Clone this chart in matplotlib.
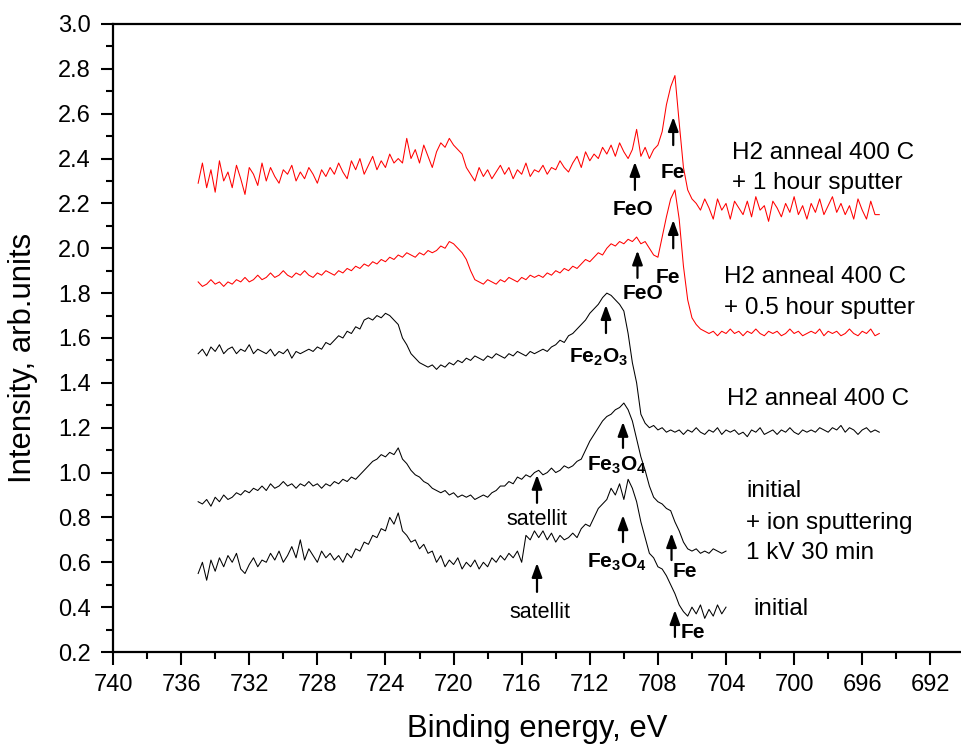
import numpy as np
import matplotlib
matplotlib.use("Agg")
import matplotlib.pyplot as plt
from matplotlib.ticker import MultipleLocator

# binding energy grids, 0.25 eV step (high -> low)
energy_long = np.linspace(735.0, 695.0, 161)
energy_short = np.linspace(735.0, 704.0, 125)

# H2 anneal 400 C + 1 hour sputter (red, top)
h2_sputter_1h = [
    2.29, 2.38, 2.27, 2.35, 2.25, 2.39, 2.30, 2.34,   # 735.0 - 733.25
    2.27, 2.37, 2.31, 2.24, 2.36, 2.33, 2.28, 2.38,   # 733.0 - 731.25
    2.30, 2.36, 2.32, 2.29, 2.35, 2.33, 2.37, 2.30,   # 731.0 - 729.25
    2.34, 2.31, 2.36, 2.33, 2.29, 2.35, 2.32, 2.36,   # 729.0 - 727.25
    2.33, 2.38, 2.34, 2.31, 2.39, 2.35, 2.40, 2.33,   # 727.0 - 725.25
    2.37, 2.41, 2.35, 2.39, 2.36, 2.42, 2.38, 2.40,   # 725.0 - 723.25
    2.38, 2.49, 2.40, 2.44, 2.38, 2.46, 2.41, 2.36,   # 723.0 - 721.25
    2.43, 2.47, 2.45, 2.49, 2.46, 2.44, 2.42, 2.36,   # 721.0 - 719.25
    2.33, 2.30, 2.36, 2.32, 2.35, 2.31, 2.34, 2.37,   # 719.0 - 717.25
    2.33, 2.36, 2.31, 2.35, 2.33, 2.38, 2.32, 2.35,   # 717.0 - 715.25
    2.34, 2.37, 2.33, 2.36, 2.35, 2.39, 2.36, 2.34,   # 715.0 - 713.25
    2.38, 2.41, 2.36, 2.43, 2.39, 2.42, 2.40, 2.45,   # 713.0 - 711.25
    2.42, 2.46, 2.41, 2.47, 2.43, 2.40, 2.44, 2.53,   # 711.0 - 709.25
    2.41, 2.45, 2.40, 2.44, 2.46, 2.52, 2.64, 2.72,   # 709.0 - 707.25
    2.77, 2.56, 2.36, 2.26, 2.22, 2.20, 2.17, 2.22,   # 707.0 - 705.25
    2.18, 2.13, 2.22, 2.17, 2.20, 2.13, 2.21, 2.18,   # 705.0 - 703.25
    2.15, 2.21, 2.14, 2.23, 2.17, 2.19, 2.12, 2.21,   # 703.0 - 701.25
    2.18, 2.14, 2.20, 2.16, 2.23, 2.15, 2.19, 2.13,   # 701.0 - 699.25
    2.20, 2.16, 2.22, 2.15, 2.19, 2.23, 2.16, 2.20,   # 699.0 - 697.25
    2.15, 2.19, 2.13, 2.22, 2.17, 2.13, 2.21, 2.15,   # 697.0 - 695.25
    2.15,
]

# H2 anneal 400 C + 0.5 hour sputter (red, middle)
h2_sputter_05h = [
    1.85, 1.83, 1.84, 1.86, 1.84, 1.85, 1.83, 1.85,
    1.84, 1.86, 1.85, 1.87, 1.85, 1.86, 1.88, 1.86,
    1.87, 1.89, 1.87, 1.88, 1.90, 1.88, 1.87, 1.89,
    1.88, 1.90, 1.88, 1.87, 1.89, 1.88, 1.90, 1.89,
    1.88, 1.90, 1.89, 1.91, 1.90, 1.92, 1.91, 1.93,
    1.92, 1.94, 1.93, 1.95, 1.94, 1.96, 1.95, 1.97,
    1.96, 1.98, 1.97, 1.96, 1.98, 1.97, 1.99, 1.98,
    1.99, 2.01, 2.00, 2.03, 2.02, 2.00, 1.98, 1.95,
    1.90, 1.86, 1.85, 1.84, 1.86, 1.85, 1.84, 1.86,
    1.85, 1.87, 1.86, 1.85, 1.87, 1.86, 1.88, 1.87,
    1.88, 1.87, 1.89, 1.88, 1.90, 1.89, 1.91, 1.90,
    1.92, 1.91, 1.93, 1.95, 1.94, 1.96, 1.98, 1.97,
    2.00, 2.02, 2.01, 2.03, 2.02, 2.04, 2.03, 2.05,
    2.02, 2.03, 2.00, 1.97, 1.96, 2.05, 2.14, 2.22,
    2.26, 2.13, 1.92, 1.77, 1.69, 1.66, 1.64, 1.63,
    1.62, 1.63, 1.61, 1.63, 1.62, 1.64, 1.62, 1.63,
    1.61, 1.63, 1.62, 1.64, 1.62, 1.61, 1.63, 1.62,
    1.63, 1.61, 1.62, 1.64, 1.62, 1.63, 1.61, 1.62,
    1.63, 1.62, 1.64, 1.61, 1.63, 1.62, 1.63, 1.61,
    1.62, 1.64, 1.62, 1.61, 1.63, 1.62, 1.64, 1.61,
    1.62,
]

# H2 anneal 400 C (black)
h2_anneal = [
    1.53, 1.55, 1.52, 1.56, 1.54, 1.57, 1.53, 1.55,
    1.56, 1.53, 1.55, 1.54, 1.57, 1.53, 1.55, 1.54,
    1.53, 1.55, 1.52, 1.54, 1.53, 1.55, 1.51, 1.54,
    1.53, 1.54, 1.55, 1.54, 1.56, 1.55, 1.58, 1.57,
    1.59, 1.61, 1.60, 1.63, 1.62, 1.65, 1.64, 1.68,
    1.69, 1.68, 1.70, 1.69, 1.71, 1.70, 1.68, 1.66,
    1.60, 1.57, 1.53, 1.51, 1.49, 1.48, 1.47, 1.48,
    1.46, 1.48, 1.47, 1.49, 1.48, 1.50, 1.49, 1.51,
    1.50, 1.52, 1.51, 1.50, 1.52, 1.51, 1.53, 1.52,
    1.51, 1.53, 1.52, 1.54, 1.53, 1.52, 1.54, 1.53,
    1.54, 1.55, 1.54, 1.56, 1.57, 1.59, 1.58, 1.61,
    1.62, 1.64, 1.66, 1.68, 1.71, 1.73, 1.75, 1.78,
    1.80, 1.79, 1.77, 1.75, 1.72, 1.62, 1.49, 1.40,
    1.26, 1.22, 1.20, 1.21, 1.19, 1.20, 1.18, 1.19,
    1.18, 1.19, 1.17, 1.19, 1.18, 1.20, 1.18, 1.17,
    1.19, 1.18, 1.20, 1.17, 1.19, 1.18, 1.19, 1.17,
    1.18, 1.16, 1.19, 1.18, 1.20, 1.17, 1.18, 1.19,
    1.17, 1.19, 1.18, 1.20, 1.18, 1.17, 1.19, 1.18,
    1.19, 1.18, 1.20, 1.19, 1.18, 1.20, 1.19, 1.21,
    1.18, 1.20, 1.19, 1.17, 1.19, 1.20, 1.18, 1.19,
    1.18,
]

# initial + ion sputtering 1 kV 30 min (black)
initial_sputter = [
    0.87, 0.86, 0.88, 0.85, 0.89, 0.87, 0.90, 0.88,
    0.89, 0.91, 0.90, 0.92, 0.91, 0.93, 0.92, 0.94,
    0.92, 0.95, 0.93, 0.94, 0.96, 0.94, 0.95, 0.93,
    0.95, 0.94, 0.96, 0.94, 0.95, 0.93, 0.95, 0.94,
    0.96, 0.95, 0.97, 0.96, 0.98, 0.97, 0.99, 1.01,
    1.03, 1.05, 1.06, 1.08, 1.07, 1.09, 1.08, 1.11,
    1.06, 1.04, 1.01, 0.99, 0.98, 0.96, 0.95, 0.93,
    0.92, 0.91, 0.92, 0.90, 0.91, 0.89, 0.90, 0.89,
    0.90, 0.88, 0.89, 0.90, 0.89, 0.91, 0.92, 0.94,
    0.94, 0.96, 0.95, 0.98, 0.97, 0.99, 0.98, 1.00,
    1.01, 0.99, 1.00, 1.02, 1.00, 1.01, 1.03, 1.02,
    1.03, 1.05, 1.06, 1.10, 1.14, 1.17, 1.20, 1.23,
    1.25, 1.26, 1.28, 1.29, 1.31, 1.28, 1.23, 1.15,
    1.07, 1.01, 0.94, 0.89, 0.87, 0.86, 0.84, 0.83,
    0.78, 0.74, 0.69, 0.66, 0.65, 0.66, 0.64, 0.65,
    0.64, 0.66, 0.65, 0.64, 0.65,
]

# initial (black, bottom)
initial = [
    0.55, 0.60, 0.52, 0.61, 0.56, 0.62, 0.58, 0.63,
    0.60, 0.64, 0.57, 0.55, 0.59, 0.62, 0.58, 0.61,
    0.60, 0.64, 0.61, 0.65, 0.60, 0.63, 0.67, 0.62,
    0.70, 0.61, 0.66, 0.63, 0.60, 0.65, 0.62, 0.64,
    0.61, 0.63, 0.60, 0.64, 0.62, 0.66, 0.65, 0.69,
    0.68, 0.72, 0.71, 0.75, 0.74, 0.80, 0.77, 0.82,
    0.74, 0.72, 0.69, 0.70, 0.66, 0.68, 0.64, 0.65,
    0.60, 0.63, 0.58, 0.61, 0.59, 0.62, 0.57, 0.60,
    0.58, 0.61, 0.57, 0.60, 0.58, 0.62, 0.60, 0.63,
    0.61, 0.64, 0.62, 0.65, 0.60, 0.72, 0.70, 0.74,
    0.71, 0.74, 0.70, 0.73, 0.69, 0.72, 0.70, 0.71,
    0.73, 0.71, 0.75, 0.77, 0.76, 0.80, 0.84, 0.86,
    0.88, 0.93, 0.90, 0.95, 0.88, 0.97, 0.93, 0.87,
    0.78, 0.71, 0.64, 0.62, 0.58, 0.57, 0.54, 0.50,
    0.46, 0.41, 0.38, 0.36, 0.40, 0.37, 0.41, 0.35,
    0.39, 0.36, 0.41, 0.37, 0.40,
]

x_ticks = [740, 736, 732, 728, 724, 720, 716, 712, 708, 704, 700, 696, 692]
y_ticks = [0.2, 0.4, 0.6, 0.8, 1.0, 1.2, 1.4, 1.6, 1.8, 2.0, 2.2, 2.4, 2.6, 2.8, 3.0]


def draw_arrow(ax, x, y_tail, y_tip):
    ax.annotate(
        "",
        xy=(x, y_tip),
        xytext=(x, y_tail),
        arrowprops=dict(
            arrowstyle="-|>,head_length=0.6,head_width=0.22",
            color="black",
            lw=1.6,
            mutation_scale=14,
            shrinkA=0,
            shrinkB=0,
        ),
    )


def main():
    plt.rcParams["font.family"] = ["Liberation Sans", "DejaVu Sans"]
    plt.rcParams["mathtext.fontset"] = "custom"
    plt.rcParams["mathtext.rm"] = "Liberation Sans"
    plt.rcParams["mathtext.bf"] = "Liberation Sans:bold"

    assert len(h2_sputter_1h) == len(energy_long)
    assert len(h2_sputter_05h) == len(energy_long)
    assert len(h2_anneal) == len(energy_long)
    assert len(initial_sputter) == len(energy_short)
    assert len(initial) == len(energy_short)

    fig = plt.figure(figsize=(9.61, 7.49), dpi=100)
    ax = fig.add_axes([0.1176, 0.1295, 0.8824, 0.8385])

    ax.plot(energy_long, h2_sputter_1h, color="#ff0000", lw=0.75)
    ax.plot(energy_long, h2_sputter_05h, color="#ff0000", lw=0.75)
    ax.plot(energy_long, h2_anneal, color="black", lw=0.75)
    ax.plot(energy_short, initial_sputter, color="black", lw=0.75)
    ax.plot(energy_short, initial, color="black", lw=0.75)

    ax.set_xlim(740, 690.2)
    ax.set_ylim(0.2, 3.0)
    ax.set_xticks(x_ticks)
    ax.set_yticks(y_ticks)
    ax.set_yticklabels([f"{v:.1f}" for v in y_ticks])
    ax.xaxis.set_minor_locator(MultipleLocator(2))
    ax.yaxis.set_minor_locator(MultipleLocator(0.1))
    ax.tick_params(which="major", direction="out", length=9, width=1.5,
                   labelsize=17, pad=7)
    ax.tick_params(which="minor", direction="out", length=5, width=1.5)
    ax.spines["right"].set_visible(False)
    for s in ("left", "bottom", "top"):
        ax.spines[s].set_linewidth(1.6)

    ax.set_xlabel("Binding energy, eV", fontsize=22.3, labelpad=13)
    ax.set_ylabel("Intensity, arb.units", fontsize=22.3)
    ax.yaxis.set_label_coords(-0.088, 0.468)

    # peak markers
    draw_arrow(ax, 707.1, 2.46, 2.585)
    draw_arrow(ax, 709.35, 2.26, 2.385)
    draw_arrow(ax, 707.1, 2.00, 2.126)
    draw_arrow(ax, 709.2, 1.868, 1.99)
    draw_arrow(ax, 711.05, 1.622, 1.747)
    draw_arrow(ax, 710.05, 1.11, 1.226)
    draw_arrow(ax, 715.1, 0.865, 0.99)
    draw_arrow(ax, 710.05, 0.69, 0.81)
    draw_arrow(ax, 707.2, 0.61, 0.73)
    draw_arrow(ax, 715.1, 0.468, 0.597)
    draw_arrow(ax, 707.0, 0.267, 0.387)

    bold = dict(fontsize=15, fontweight="bold", ha="center", va="center")
    ax.text(707.1, 2.34, "Fe", **bold)
    ax.text(709.47, 2.175, "FeO", **bold)
    ax.text(707.4, 1.868, "Fe", **bold)
    ax.text(708.9, 1.80, "FeO", **bold)
    ax.text(711.5, 1.515, r"Fe$_\mathbf{2}$O$_\mathbf{3}$", **bold)
    ax.text(710.4, 1.034, r"Fe$_\mathbf{3}$O$_\mathbf{4}$", **bold)
    ax.text(710.4, 0.60, r"Fe$_\mathbf{3}$O$_\mathbf{4}$", **bold)
    ax.text(706.4, 0.557, "Fe", **bold)
    ax.text(705.95, 0.285, "Fe", **bold)
    ax.text(715.1, 0.79, "satellit", fontsize=15.5, ha="center", va="center")
    ax.text(714.9, 0.378, "satellit", fontsize=15.5, ha="center", va="center")

    # sample descriptions
    desc = dict(fontsize=17.5, ha="left", va="center")
    ax.text(703.65, 2.425, "H2 anneal 400 C", **desc)
    ax.text(703.65, 2.29, "+ 1 hour sputter", **desc)
    ax.text(704.1, 1.872, "H2 anneal 400 C", **desc)
    ax.text(704.1, 1.734, "+ 0.5 hour sputter", **desc)
    ax.text(703.95, 1.328, "H2 anneal 400 C", **desc)
    ax.text(702.8, 0.918, "initial", **desc)
    ax.text(702.8, 0.775, "+ ion sputtering", **desc)
    ax.text(702.8, 0.641, "1 kV 30 min", **desc)
    ax.text(702.4, 0.392, "initial", **desc)

    fig.savefig("out.png", dpi=100)
    plt.close(fig)


if __name__ == "__main__":
    main()
